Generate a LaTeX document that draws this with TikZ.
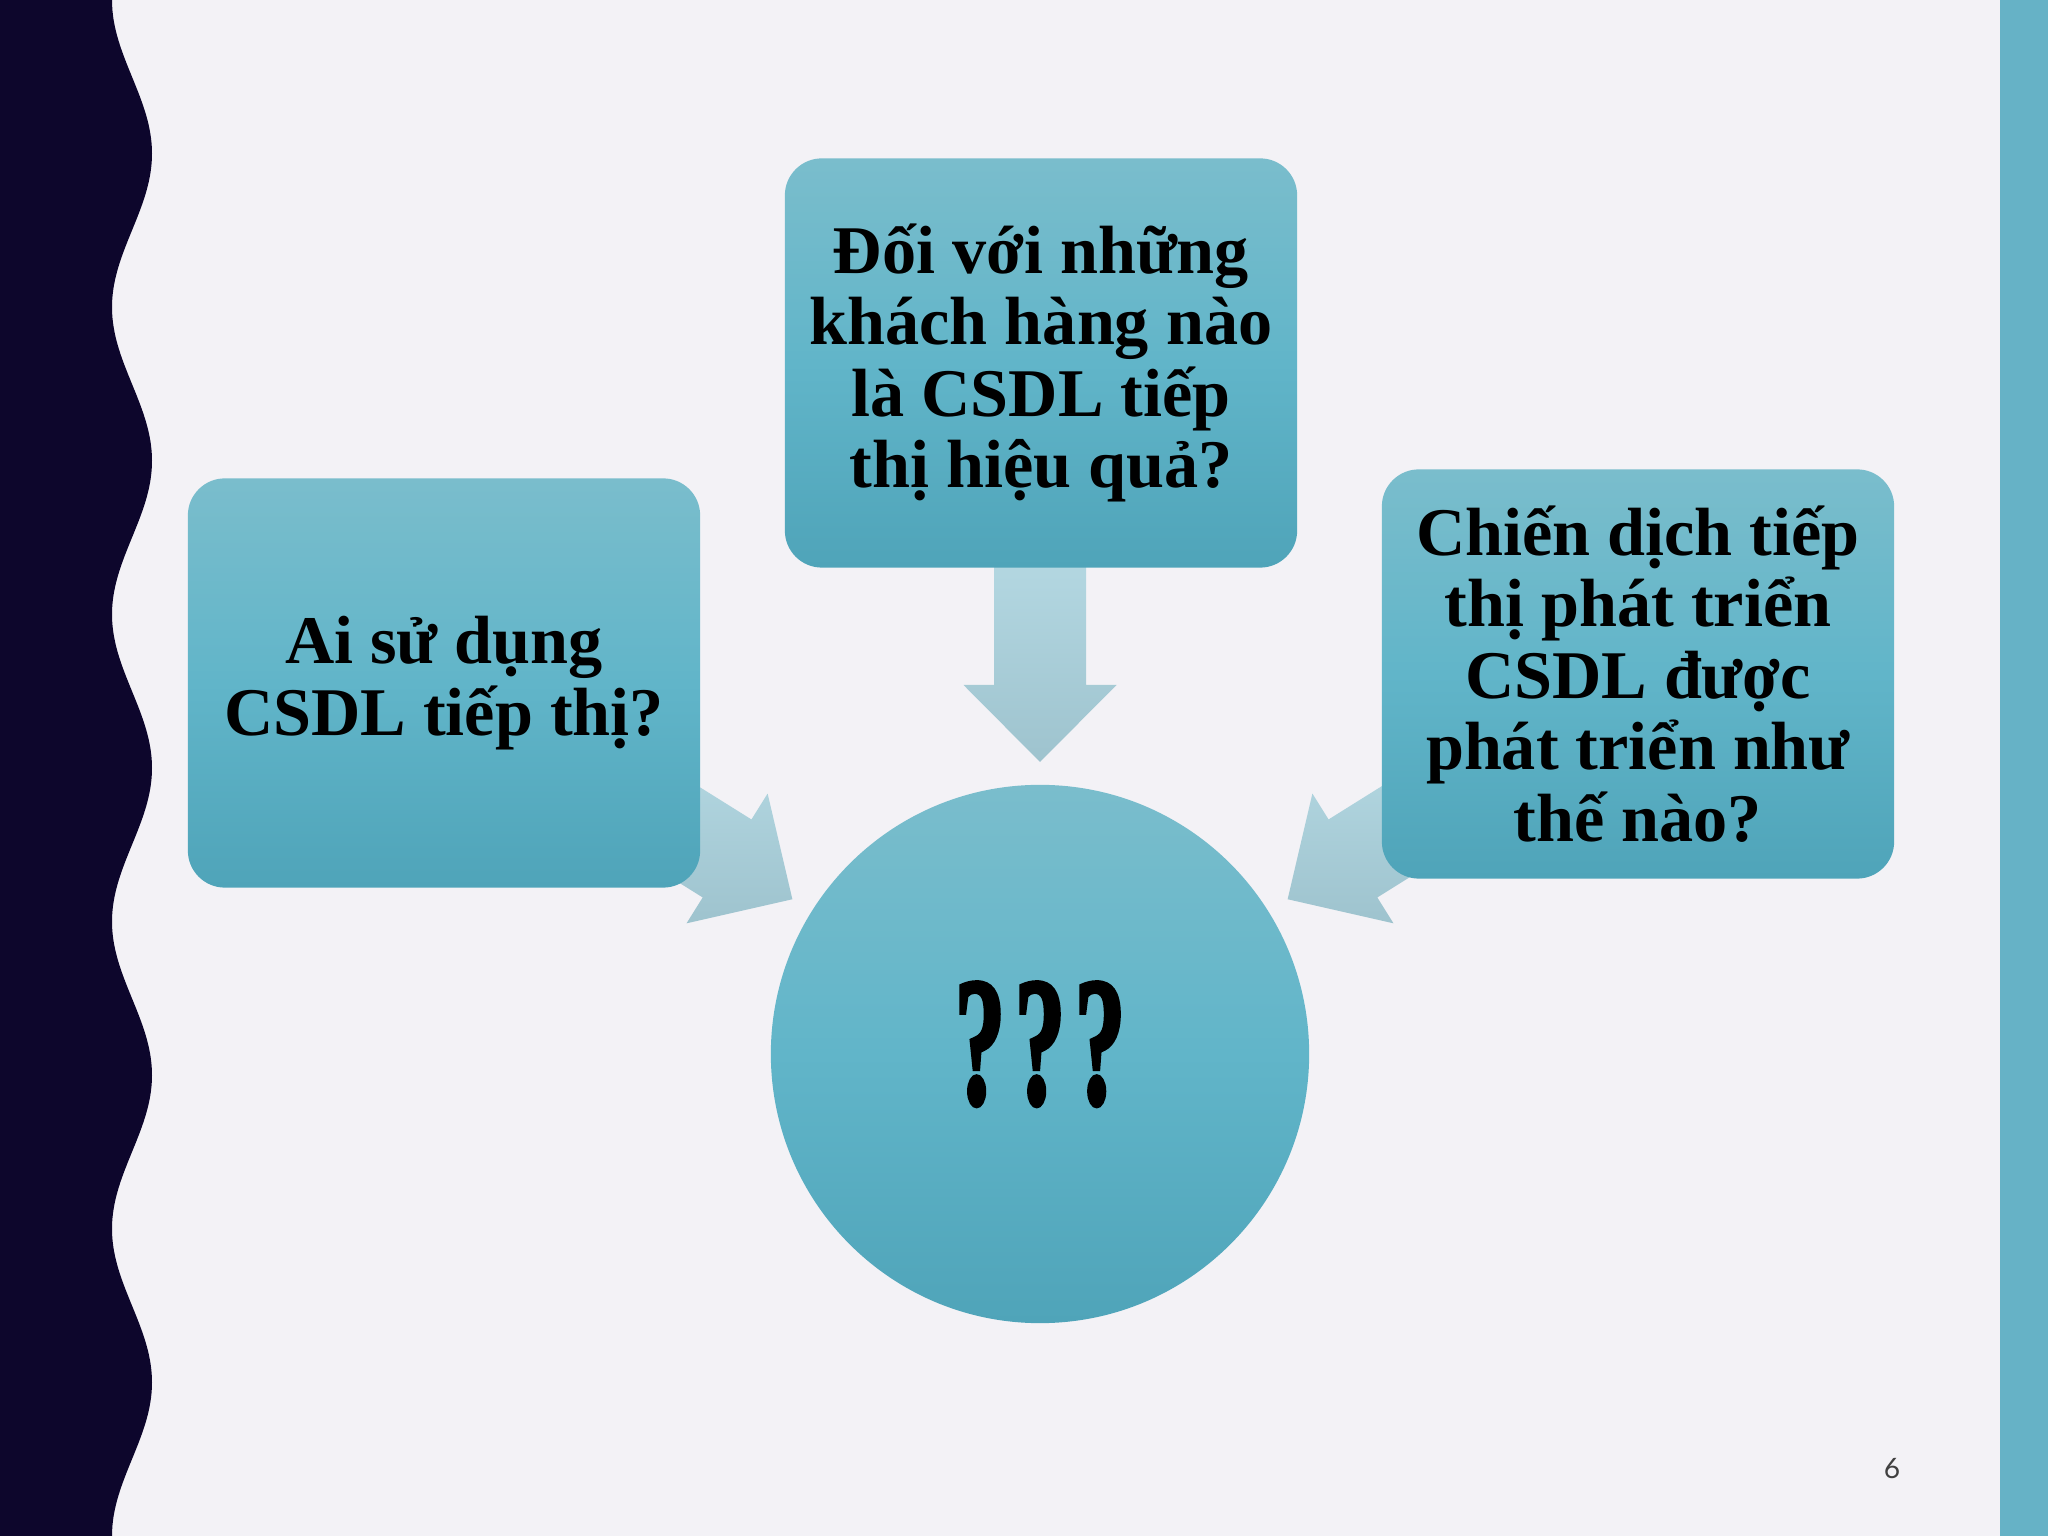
\documentclass[tikz,border=0pt]{standalone}
\usepackage{fontspec}
\usepackage{graphicx}
\setmainfont{Liberation Serif}
\newfontfamily\slidenumfont{Lato}
\newfontfamily\qmfont{Liberation Serif}[BoldFeatures={FakeBold=2.5}]
\usetikzlibrary{calc}
\definecolor{slidebg}{RGB}{243,242,246}
\definecolor{bandnavy}{RGB}{13,6,44}
\definecolor{barteal}{RGB}{102,178,198}
\definecolor{boxtop}{RGB}{122,189,204}
\definecolor{boxmid}{RGB}{97,181,201}
\definecolor{boxbot}{RGB}{79,164,185}
\definecolor{arrtop}{RGB}{180,216,226}
\definecolor{arrbot}{RGB}{158,195,206}
\definecolor{pagegray}{RGB}{64,64,64}
\newcommand\boxfont{\bfseries\fontsize{19.4pt}{20.3pt}\selectfont}
\newcommand\qmk{\makebox[0.6cm]{\scalebox{0.56}[1]{?}}}
\tikzset{
	qbox/.style={rectangle, rounded corners=0.37cm, minimum width=5.12cm, minimum height=4.09cm,
		top color=boxtop, bottom color=boxbot, middle color=boxmid, align=center, inner sep=0pt, font=\boxfont},
	qcircle/.style={circle, minimum size=5.38cm, inner sep=0pt, text depth=0.22cm,
		top color=boxtop, bottom color=boxbot, middle color=boxmid, font=\qmfont\bfseries\fontsize{52pt}{52pt}\selectfont}
}
\def\blockarrow(#1)(#2){\shade[top color=arrtop, bottom color=arrbot]
	($(#1)+(#2:500)+({#2+90}:46)$) -- ($(#1)+(#2:369)+({#2+90}:46)$) -- ($(#1)+(#2:369)+({#2+90}:76.5)$) --
	($(#1)+(#2:292)$) --
	($(#1)+(#2:369)+({#2-90}:76.5)$) -- ($(#1)+(#2:369)+({#2-90}:46)$) -- ($(#1)+(#2:500)+({#2-90}:46)$) -- cycle;}

\begin{document}
\begin{tikzpicture}[x=0.01cm, y=0.01cm]
			%%%%% START %%%%%
			
			\useasboundingbox (0,0) rectangle (2048,1536);
			\fill[slidebg] (0,0) rectangle (2048,1536);
			
			\fill[bandnavy] (0,0) -- plot[domain=0:1536, samples=161, smooth] ({132-20*cos(\x/307.2*360)}, \x) -- (0,1536) -- cycle;
			\fill[barteal] (2000,0) rectangle (2048,1536);
			
			\node[qcircle] (q) at (1040,482) {\qmk\qmk\qmk};
			
			\blockarrow(q)(90);
			\blockarrow(q)(148);
			\blockarrow(q)(32);
			
			\node[qbox] (whichbox) at (1041,1173) {Đối với những\\khách hàng nào\\là CSDL tiếp\\thị hiệu quả?};
			\node[qbox] (whobox) at (444,853) {Ai sử dụng\\CSDL tiếp thị?};
			\node[qbox] (howbox) at (1638,862) {Chiến dịch tiếp\\thị phát triển\\CSDL được\\phát triển như\\thế nào?};
			
			\node[font=\slidenumfont\fontsize{8pt}{8pt}\selectfont, text=pagegray] (pnum) at (1892,67) {6};
			
			%%%%% END %%%%%
\end{tikzpicture}
\end{document}
